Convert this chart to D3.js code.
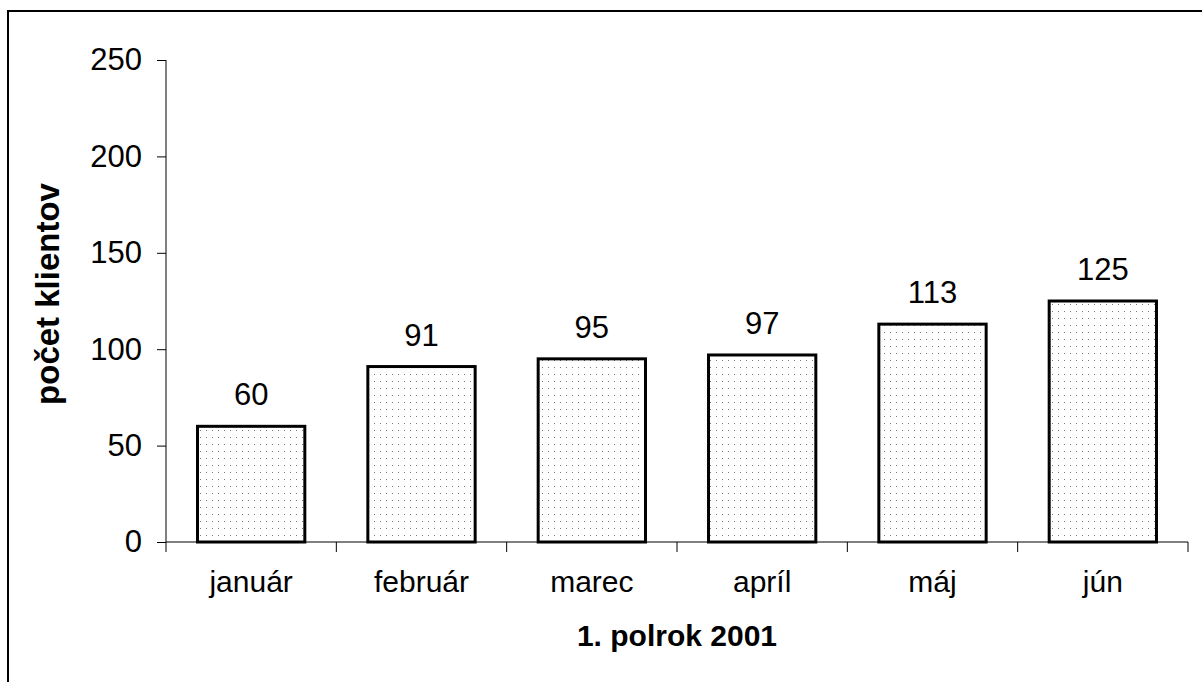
<!DOCTYPE html>
<html>
<head>
    <meta charset="utf-8">
    <title>Počet klientov</title>
    <style>
      body { margin: 0; background: #fff; }
      text { font-family: "Liberation Sans", Arial, sans-serif; fill: #000; }
      .axis path, .axis line { stroke: #000; }
    </style>
</head>
<body>
    <script src="https://d3js.org/d3.v7.min.js"></script>
    <script type="text/javascript">
        // data
        var months = ["január", "február", "marec", "apríl", "máj", "jún"];
        var clients = [60, 91, 95, 97, 113, 125];
        var yTicks = [0, 50, 100, 150, 200, 250];
        var xTitle = "1. polrok 2001";
        var yTitle = "počet klientov";

        var width = 1202, height = 682;
        var plotLeft = 166, plotRight = 1188, plotTop = 60, plotBottom = 542;

        var svg = d3.select("body")
            .append("svg")
            .attr("width", width)
            .attr("height", height);

        // dotted fill like the old excel pattern
        var pat = svg.append("defs").append("pattern")
            .attr("id", "dots")
            .attr("patternUnits", "userSpaceOnUse")
            .attr("width", 6)
            .attr("height", 7);
        pat.append("rect").attr("width", 6).attr("height", 7).attr("fill", "#fff");
        pat.append("rect").attr("x", 2).attr("y", 3).attr("width", 1).attr("height", 1).attr("fill", "#7a7a7a");

        // outer frame (runs off the page on the right and bottom)
        svg.append("rect")
            .attr("x", 8).attr("y", 11)
            .attr("width", 1400).attr("height", 900)
            .attr("fill", "none")
            .attr("stroke", "#000")
            .attr("stroke-width", 2);

        /*********************************
         * Scales
         *********************************/
        var xScale = d3.scaleBand()
            .domain(months)
            .range([plotLeft, plotRight])
            .paddingInner(0.37)
            .paddingOuter(0.185);

        var xTickScale = d3.scalePoint()
            .domain(d3.range(months.length + 1))
            .range([plotLeft, plotRight]);

        var yScale = d3.scaleLinear()
            .domain([0, 250])
            .range([plotBottom, plotTop]);

        /*********************************
         * Bars + labels
         *********************************/
        svg.selectAll("rect.bar")
            .data(clients)
            .enter()
            .append("rect")
            .attr("class", "bar")
            .attr("x", function(d, i) { return xScale(months[i]); })
            .attr("y", function(d) { return yScale(d); })
            .attr("width", xScale.bandwidth())
            .attr("height", function(d) { return yScale(0) - yScale(d); })
            .attr("fill", "url(#dots)")
            .attr("stroke", "#000")
            .attr("stroke-width", 3);

        svg.selectAll("text.val")
            .data(clients)
            .enter()
            .append("text")
            .attr("class", "val")
            .attr("x", function(d, i) { return xScale(months[i]) + xScale.bandwidth() / 2; })
            .attr("y", function(d) { return yScale(d) - 21; })
            .attr("text-anchor", "middle")
            .attr("font-size", "31px")
            .text(function(d) { return d; });

        /*********************************
         * Axes
         *********************************/
        var yAxis = d3.axisLeft(yScale)
            .tickValues(yTicks)
            .tickSize(9)
            .tickPadding(15);

        var gy = svg.append("g")
            .attr("class", "axis")
            .attr("transform", "translate(" + plotLeft + ",0)")
            .call(yAxis);
        gy.select(".domain").attr("d", "M0," + plotTop + "V" + plotBottom);
        gy.selectAll("text").attr("font-size", "31px").attr("font-family", "Liberation Sans, Arial, sans-serif").attr("fill", "#000");

        var gx = svg.append("g")
            .attr("class", "axis")
            .attr("transform", "translate(0," + plotBottom + ")");
        gx.append("line")
            .attr("x1", plotLeft).attr("x2", plotRight)
            .attr("stroke", "#000");
        gx.selectAll("line.tick")
            .data(xTickScale.domain())
            .enter()
            .append("line")
            .attr("class", "tick")
            .attr("x1", function(d) { return xTickScale(d); })
            .attr("x2", function(d) { return xTickScale(d); })
            .attr("y1", 0).attr("y2", 10)
            .attr("stroke", "#000");
        gx.selectAll("text")
            .data(months)
            .enter()
            .append("text")
            .attr("x", function(d) { return xScale(d) + xScale.bandwidth() / 2; })
            .attr("y", 50)
            .attr("text-anchor", "middle")
            .attr("font-size", "30px")
            .text(function(d) { return d; });

        // axis titles
        svg.append("text")
            .attr("x", (plotLeft + plotRight) / 2)
            .attr("y", 646)
            .attr("text-anchor", "middle")
            .attr("font-size", "30px")
            .attr("font-weight", "bold")
            .text(xTitle);

        svg.append("text")
            .attr("transform", "translate(59,294) rotate(-90)")
            .attr("text-anchor", "middle")
            .attr("font-size", "33px")
            .attr("font-weight", "bold")
            .text(yTitle);
    </script>
</body>
</html>
